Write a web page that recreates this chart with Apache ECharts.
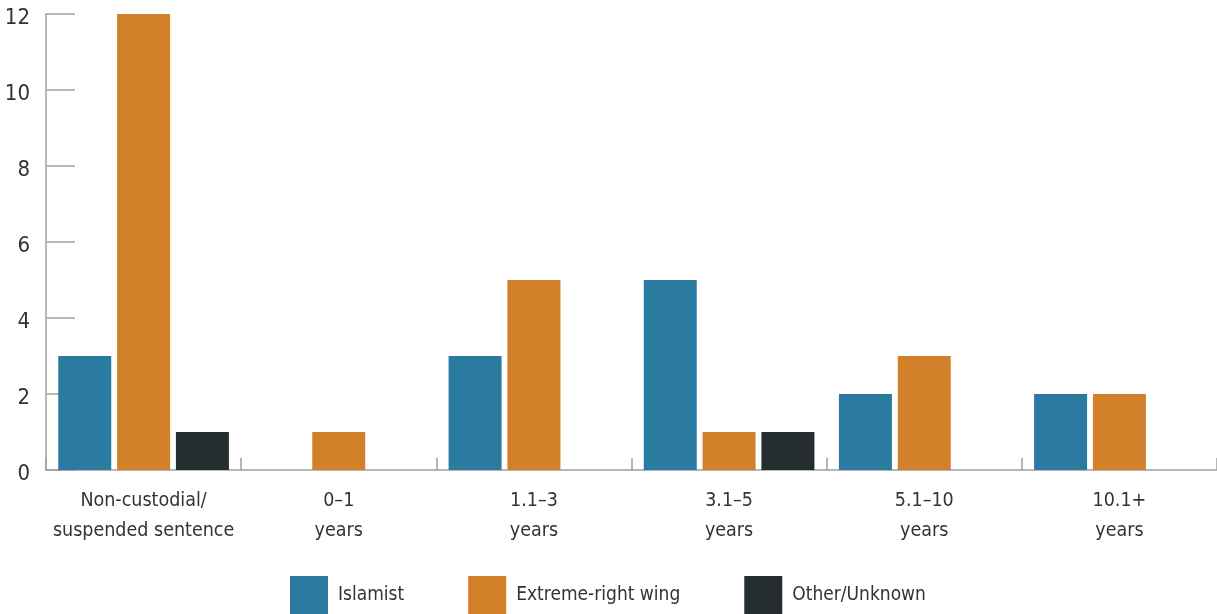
<!DOCTYPE html>
<html>
<head>
<meta charset="utf-8">
<script src="https://cdn.jsdelivr.net/npm/echarts@6/dist/echarts.min.js"></script>
<style>html,body{margin:0;padding:0;background:#fff}#c{width:1217px;height:614px}</style>
</head>
<body>
<div id="c"></div>
<script>
const categories = ['Non-custodial/\nsuspended sentence', '0–1\nyears', '1.1–3\nyears', '3.1–5\nyears', '5.1–10\nyears', '10.1+\nyears'];
const seriesNames = ['Islamist', 'Extreme-right wing', 'Other/Unknown'];
const islamist = [3, 0, 3, 5, 2, 2];
const extremeRight = [12, 1, 5, 1, 3, 2];
const otherUnknown = [1, 0, 0, 1, 0, 0];
const yTicks = [0, 2, 4, 6, 8, 10, 12];

const FONT = '"Liberation Sans Narrow", "DejaVu Sans Condensed", "Roboto", sans-serif';
const colors = ['#2b7ba1', '#d3802b', '#262d30'];
const chart = echarts.init(document.getElementById('c'));
const mk = (name, data, color) => ({
  name, type: 'bar', data, barWidth: 53, barGap: '11%',
  itemStyle: { color }
});
chart.setOption({
  animation: false,
  textStyle: { fontFamily: FONT },
  grid: { left: 46, right: 0, top: 14, bottom: 144, containLabel: false },
  legend: {
    top: 571, left: 285,
    itemWidth: 38, itemHeight: 38, itemGap: 64,
    icon: 'rect',
    textStyle: { fontFamily: FONT, fontSize: 19, color: '#333', padding: [0, 0, 0, 5] },
    data: seriesNames
  },
  xAxis: {
    type: 'category', data: categories,
    axisLine: { lineStyle: { color: '#a0a0a0', width: 1.5 } },
    axisTick: { show: true, inside: true, length: 12, interval: 0, lineStyle: { color: '#a0a0a0', width: 1.5 } },
    axisLabel: { interval: 0, fontFamily: FONT, fontSize: 19.5, color: '#333', lineHeight: 30, margin: 16 }
  },
  yAxis: {
    type: 'value', min: yTicks[0], max: yTicks[yTicks.length - 1], interval: 2,
    splitLine: { show: false },
    axisLine: { show: true, lineStyle: { color: '#a0a0a0', width: 1.5 } },
    axisTick: { show: true, inside: true, length: 29, lineStyle: { color: '#a0a0a0', width: 1.5 } },
    axisLabel: {
      fontFamily: FONT, fontSize: 22, color: '#333', margin: 16,
      formatter: '{a|{value}}',
      rich: { a: { fontFamily: FONT, fontSize: 22, color: '#333', padding: [9, 0, 0, 0] } }
    }
  },
  series: [
    mk(seriesNames[0], islamist, colors[0]),
    mk(seriesNames[1], extremeRight, colors[1]),
    mk(seriesNames[2], otherUnknown, colors[2])
  ]
});
</script>
</body>
</html>
